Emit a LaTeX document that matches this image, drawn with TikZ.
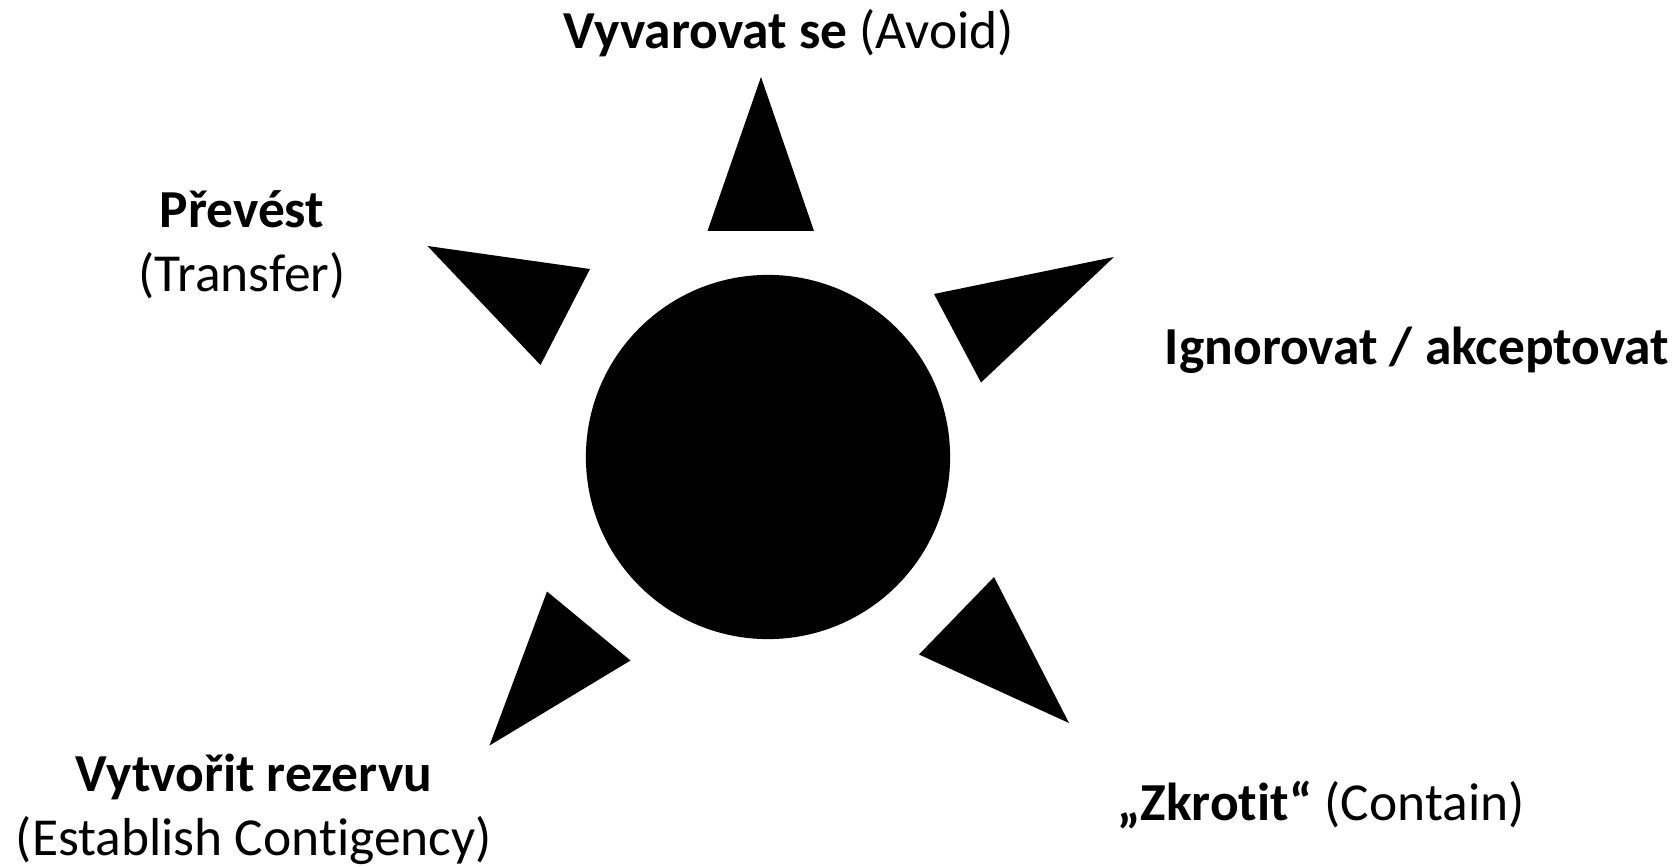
\documentclass[tikz,border=0pt]{standalone}
\usepackage{fontspec}
\setmainfont[Ligatures=NoCommon]{Carlito}
\begin{document}
\begin{tikzpicture}[x=0.01cm,y=-0.01cm,
    lbl/.style={font=\fontsize{15.2}{18.2}\selectfont,inner sep=0pt,align=center,anchor=base}]
  \useasboundingbox (0,0) rectangle (1675,867);

  % Central disc and the five spikes around it.
  \node[circle,fill=black,minimum size=3.64cm,inner sep=0pt] (core) at (768,457) {};
  \foreach \ax/\ay/\bx/\by/\cx/\cy in {
      761/77/707.5/231/814/231,
      427.5/246/590/269/540.5/365,
      934/294/1114/257/981/382.5,
      994/577/1069/723/919/654.5,
      547/591.5/630.5/660.5/489.5/745.5} {
    \fill (\ax,\ay) -- (\bx,\by) -- (\cx,\cy) -- cycle;
  }

  % Labels of the five responses (base = last line).
  \node[lbl] (avoid) at (789,49) {\textbf{Vyvarovat se} (Avoid)};
  \node[lbl] (transfer) at (242,292) {\textbf{Převést}\\(Transfer)};
  \node[lbl] (accept) at (1417,364) {\textbf{Ignorovat / akceptovat}};
  \node[lbl] (reserve) at (254,855) {\textbf{Vytvořit rezervu}\\(Establish Contigency)};
  \node[lbl] (contain) at (1321,820) {\textbf{„Zkrotit“} (Contain)};
\end{tikzpicture}
\end{document}
